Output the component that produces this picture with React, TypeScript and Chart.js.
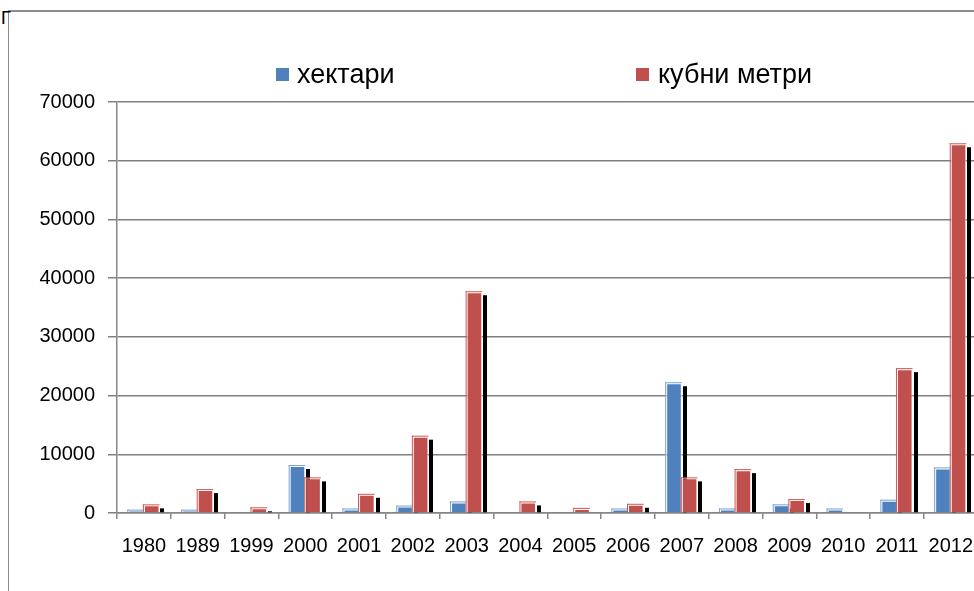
import React, { useEffect, useRef } from "react";
import { Chart, registerables } from "chart.js";

Chart.register(...registerables);

const years = ["1980", "1989", "1999", "2000", "2001", "2002", "2003", "2004", "2005", "2006", "2007", "2008", "2009", "2010", "2011", "2012"];
const hectares = [400, 400, 0, 8000, 600, 1100, 1800, 0, 0, 600, 22100, 600, 1300, 600, 2100, 7600];
const cubicMeters = [1300, 3900, 800, 5900, 3100, 13000, 37600, 1800, 700, 1400, 5900, 7300, 2200, 0, 24500, 62800];
const seriesNames = ["хектари", "кубни метри"];
const seriesColors = ["#4F81BD", "#C0504D"];
const outlineColors = ["#7aa0d4", "#cf5754"];
const yMin = 0;
const yMax = 70000;
const yStep = 10000;

const FONT = "'Liberation Sans', Arial, sans-serif";
const CANVAS_W = 988;

const barDecor = {
  id: "barDecor",
  beforeDatasetsDraw(chart: any) {
    const ctx = chart.ctx;
    ctx.save();
    ctx.fillStyle = "#000";
    chart.data.datasets.forEach((_ds: any, i: number) => {
      const meta = chart.getDatasetMeta(i);
      meta.data.forEach((bar: any) => {
        const p = bar.getProps(["x", "y", "base", "width"], true);
        const right = p.x + p.width / 2;
        const top = p.y + 3;
        if (p.base - top > 0.5) ctx.fillRect(Math.round(right) + 1, top, 4, p.base - top);
      });
    });
    ctx.restore();
  },
  afterDatasetsDraw(chart: any) {
    const ctx = chart.ctx;
    ctx.save();
    chart.data.datasets.forEach((_ds: any, i: number) => {
      const meta = chart.getDatasetMeta(i);
      ctx.fillStyle = outlineColors[i];
      meta.data.forEach((bar: any) => {
        const p = bar.getProps(["x", "y", "base", "width"], true);
        if (p.base - p.y < 0.5) return;
        const left = p.x - p.width / 2;
        ctx.fillRect(left - 1, p.y - 1, p.width + 1, 1);
        ctx.fillRect(left - 1, p.y - 1, 1, p.base - p.y + 1);
      });
    });
    ctx.restore();
  },
};

export default function App() {
  const ref = useRef<HTMLCanvasElement | null>(null);

  useEffect(() => {
    if (!ref.current) return;
    Chart.defaults.font.family = FONT;
    const chart = new Chart(ref.current, {
      type: "bar",
      data: {
        labels: years,
        datasets: [
          {
            label: seriesNames[0],
            data: hectares,
            backgroundColor: seriesColors[0],
            borderColor: "rgba(255,255,255,0.95)",
            borderWidth: 1,
            categoryPercentage: 0.58,
            barPercentage: 1,
          },
          {
            label: seriesNames[1],
            data: cubicMeters,
            backgroundColor: seriesColors[1],
            borderColor: "rgba(255,255,255,0.95)",
            borderWidth: 1,
            categoryPercentage: 0.58,
            barPercentage: 1,
          },
        ],
      },
      options: {
        responsive: false,
        animation: false,
        layout: { padding: { top: 102, left: 0, right: 0, bottom: 0 } },
        plugins: {
          legend: { display: false },
          tooltip: { enabled: false },
        },
        scales: {
          x: {
            offset: true,
            grid: {
              offset: true,
              drawOnChartArea: false,
              drawTicks: true,
              tickLength: 6,
              color: "#868686",
              lineWidth: 1.5,
            },
            border: { color: "#868686", width: 1.5 },
            ticks: {
              color: "#000",
              font: { size: 20, family: FONT },
              padding: 15,
              maxRotation: 0,
              autoSkip: false,
            },
            afterFit: (scale: any) => {
              scale.height = 78;
            },
          },
          y: {
            min: yMin,
            max: yMax,
            ticks: {
              stepSize: yStep,
              color: "#000",
              font: { size: 20, family: FONT },
              padding: 13,
              callback: (v: any) => String(v),
            },
            grid: {
              color: "#808080",
              lineWidth: 1.5,
              tickLength: 9,
            },
            border: { color: "#868686", width: 1.5 },
            afterFit: (scale: any) => {
              scale.width = 117;
            },
          },
        },
      },
      plugins: [barDecor],
    });
    return () => chart.destroy();
  }, []);

  const legendText: React.CSSProperties = {
    position: "absolute",
    top: 61,
    fontFamily: FONT,
    fontSize: 27,
    lineHeight: "27px",
    color: "#000",
    whiteSpace: "nowrap",
  };

  return (
    <div style={{ position: "absolute", left: 0, top: 0, width: 974, height: 591, overflow: "hidden", background: "#fff" }}>
      <div
        style={{
          position: "absolute",
          left: 8,
          top: 10,
          right: -10,
          bottom: -10,
          borderTop: "2px solid #8c8c8c",
          borderLeft: "1px solid #8c8c8c",
        }}
      />
      <span style={{ position: "absolute", left: 1, top: 9, fontFamily: FONT, fontSize: 18, lineHeight: "18px" }}>Г</span>
      <canvas ref={ref} width={CANVAS_W} height={591} style={{ position: "absolute", left: 0, top: 0, width: CANVAS_W, height: 591 }} />
      <div style={{ position: "absolute", left: 276, top: 68, width: 13, height: 13, background: seriesColors[0] }} />
      <span style={{ ...legendText, left: 297 }}>{seriesNames[0]}</span>
      <div style={{ position: "absolute", left: 636, top: 68, width: 13, height: 13, background: seriesColors[1] }} />
      <span style={{ ...legendText, left: 658 }}>{seriesNames[1]}</span>
    </div>
  );
}
